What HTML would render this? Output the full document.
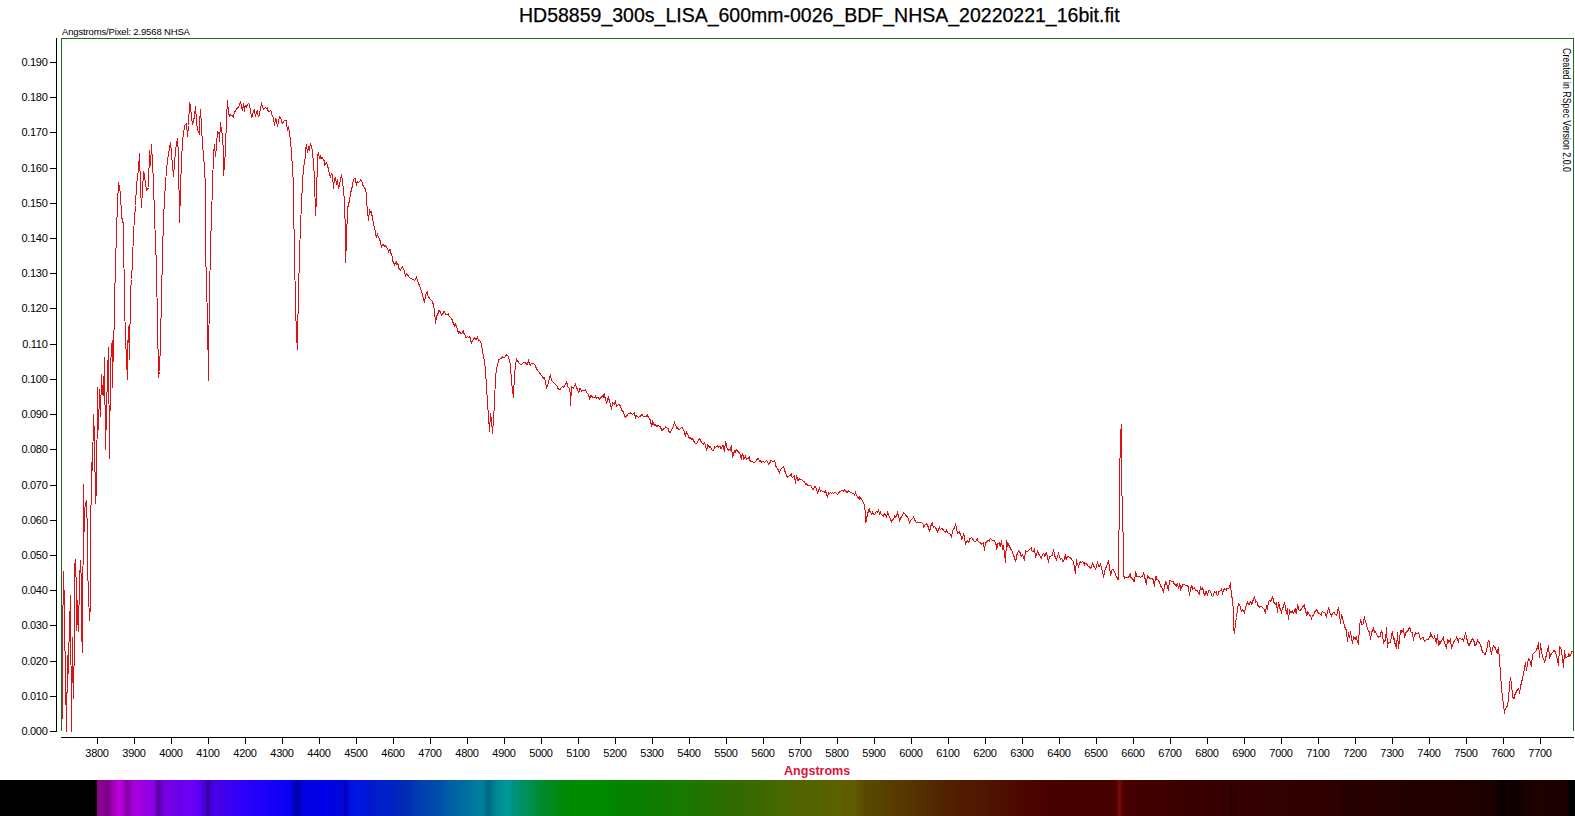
<!DOCTYPE html>
<html><head><meta charset="utf-8"><style>
html,body{margin:0;padding:0;background:#fff;}
body{width:1575px;height:816px;position:relative;overflow:hidden;}
#title{position:absolute;left:-0.7px;top:4px;width:1640px;text-align:center;font-family:"Liberation Sans",Arial,sans-serif;font-size:19.5px;color:#000;white-space:nowrap;-webkit-text-stroke:0.25px #000;}
#app{position:absolute;left:62px;top:26px;font-family:"Liberation Sans",Arial,sans-serif;font-size:9.5px;letter-spacing:-0.15px;color:#000;white-space:nowrap;}
#cb{position:absolute;left:0;top:780px;width:1575px;height:36px;background:linear-gradient(to right, #000000 0.0px, #000000 96.5px, #880088 97.0px, #900090 99.0px, #880090 104.0px, #7a0088 108.0px, #9a00a8 112.0px, #b000c8 116.0px, #c000d8 119.0px, #b000d0 123.0px, #8000a8 127.0px, #9000c0 130.0px, #a800d8 134.0px, #a800e0 138.0px, #9c00e0 142.0px, #9800e4 146.0px, #9000e8 150.0px, #8800e4 154.0px, #5800a0 158.0px, #6600c0 161.0px, #7400e0 164.0px, #7800e8 168.0px, #7400e8 172.0px, #7000ec 176.0px, #6400e8 180.0px, #6a00f0 184.0px, #6c00f8 190.0px, #6400f8 195.0px, #5800f0 200.0px, #4800d8 205.0px, #300098 208.0px, #4000d8 211.0px, #4800e8 215.0px, #4200e8 222.0px, #3c00e8 225.0px, #3a00f0 230.0px, #3000f8 240.0px, #2800f8 250.0px, #2000f8 260.0px, #1800f8 270.0px, #1000f8 280.0px, #0800f0 290.0px, #0000c0 295.0px, #000098 297.5px, #0000d0 300.0px, #0000e8 305.0px, #0000e0 315.0px, #0000e8 325.0px, #0004e0 335.0px, #0008d8 343.0px, #0000b8 345.0px, #0010e0 350.0px, #0018e0 360.0px, #0018d0 370.0px, #0020c8 380.0px, #0020c8 390.0px, #0028b8 400.0px, #0030b0 410.0px, #0040b0 420.0px, #0048b0 430.0px, #0050a8 440.0px, #0060a8 450.0px, #0068a0 460.0px, #00749c 470.0px, #007ea0 480.0px, #007a98 484.0px, #006880 488.0px, #007088 491.0px, #008090 494.0px, #008e98 500.0px, #009898 506.0px, #009890 510.0px, #008c80 513.0px, #009478 516.0px, #009068 520.0px, #009050 530.0px, #008a30 540.0px, #008a20 550.0px, #008810 560.0px, #008a00 570.0px, #008c00 580.0px, #008a00 600.0px, #048200 620.0px, #0a8000 640.0px, #107c00 660.0px, #187a00 680.0px, #207400 700.0px, #2a7000 720.0px, #346a00 740.0px, #3e6800 760.0px, #486800 780.0px, #506400 800.0px, #566200 820.0px, #5e6000 840.0px, #605a00 855.0px, #584800 865.0px, #584400 880.0px, #583800 900.0px, #543000 920.0px, #522400 940.0px, #501c00 960.0px, #501800 980.0px, #4e1000 1000.0px, #4c0800 1020.0px, #4a0200 1040.0px, #480000 1060.0px, #460000 1080.0px, #460000 1100.0px, #480000 1116.0px, #7a0808 1119.0px, #7a0808 1120.0px, #4a0000 1123.0px, #420000 1140.0px, #400000 1160.0px, #3a0000 1180.0px, #380000 1200.0px, #360000 1220.0px, #340000 1229.0px, #2a0000 1232.0px, #340000 1235.0px, #330000 1260.0px, #310000 1280.0px, #300000 1300.0px, #300000 1320.0px, #2e0000 1340.0px, #260000 1345.0px, #280000 1350.0px, #220000 1355.0px, #2a0000 1360.0px, #260000 1380.0px, #240000 1400.0px, #220000 1425.0px, #220000 1450.0px, #200000 1475.0px, #1c0000 1485.0px, #1a0000 1495.0px, #0c0000 1500.0px, #060000 1503.0px, #140000 1508.0px, #0c0000 1512.0px, #100000 1518.0px, #1a0000 1525.0px, #1e0000 1540.0px, #1c0000 1555.0px, #180000 1569.0px, #000000 1569.5px, #000000 1575.0px);}
#created{position:absolute;left:1572.6px;top:47.5px;transform-origin:0 0;transform:rotate(90deg) scaleX(0.843);font-family:"Liberation Sans",Arial,sans-serif;font-size:10.5px;white-space:nowrap;}
#ang{position:absolute;left:784px;top:763px;transform-origin:0 0;transform:scaleX(0.93);font-family:"Liberation Sans",Arial,sans-serif;font-size:13.5px;font-weight:bold;color:#dc143c;white-space:nowrap;}
svg{position:absolute;left:0;top:0;}
</style></head><body>
<div id="title">HD58859_300s_LISA_600mm-0026_BDF_NHSA_20220221_16bit.fit</div>
<div id="app">Angstroms/Pixel: 2.9568 NHSA</div>
<svg width="1575" height="780" viewBox="0 0 1575 780">
<path d="M61.5,731 V38.5 H1573.5 V731" fill="none" stroke="#1a701a" stroke-width="1" shape-rendering="crispEdges"/>
<g stroke="#000" stroke-width="1" shape-rendering="crispEdges">
<line x1="56.5" y1="38" x2="56.5" y2="732"/>
<line x1="61" y1="737.5" x2="1574" y2="737.5"/>
<line x1="50" y1="731.5" x2="56" y2="731.5"/><line x1="50" y1="696.5" x2="56" y2="696.5"/><line x1="50" y1="661.5" x2="56" y2="661.5"/><line x1="50" y1="625.5" x2="56" y2="625.5"/><line x1="50" y1="590.5" x2="56" y2="590.5"/><line x1="50" y1="555.5" x2="56" y2="555.5"/><line x1="50" y1="520.5" x2="56" y2="520.5"/><line x1="50" y1="485.5" x2="56" y2="485.5"/><line x1="50" y1="449.5" x2="56" y2="449.5"/><line x1="50" y1="414.5" x2="56" y2="414.5"/><line x1="50" y1="379.5" x2="56" y2="379.5"/><line x1="50" y1="344.5" x2="56" y2="344.5"/><line x1="50" y1="308.5" x2="56" y2="308.5"/><line x1="50" y1="273.5" x2="56" y2="273.5"/><line x1="50" y1="238.5" x2="56" y2="238.5"/><line x1="50" y1="203.5" x2="56" y2="203.5"/><line x1="50" y1="168.5" x2="56" y2="168.5"/><line x1="50" y1="132.5" x2="56" y2="132.5"/><line x1="50" y1="97.5" x2="56" y2="97.5"/><line x1="50" y1="62.5" x2="56" y2="62.5"/>
<line x1="97.5" y1="737" x2="97.5" y2="744"/><line x1="134.5" y1="737" x2="134.5" y2="744"/><line x1="171.5" y1="737" x2="171.5" y2="744"/><line x1="208.5" y1="737" x2="208.5" y2="744"/><line x1="245.5" y1="737" x2="245.5" y2="744"/><line x1="282.5" y1="737" x2="282.5" y2="744"/><line x1="319.5" y1="737" x2="319.5" y2="744"/><line x1="356.5" y1="737" x2="356.5" y2="744"/><line x1="393.5" y1="737" x2="393.5" y2="744"/><line x1="430.5" y1="737" x2="430.5" y2="744"/><line x1="467.5" y1="737" x2="467.5" y2="744"/><line x1="504.5" y1="737" x2="504.5" y2="744"/><line x1="541.5" y1="737" x2="541.5" y2="744"/><line x1="578.5" y1="737" x2="578.5" y2="744"/><line x1="615.5" y1="737" x2="615.5" y2="744"/><line x1="652.5" y1="737" x2="652.5" y2="744"/><line x1="689.5" y1="737" x2="689.5" y2="744"/><line x1="726.5" y1="737" x2="726.5" y2="744"/><line x1="763.5" y1="737" x2="763.5" y2="744"/><line x1="800.5" y1="737" x2="800.5" y2="744"/><line x1="837.5" y1="737" x2="837.5" y2="744"/><line x1="874.5" y1="737" x2="874.5" y2="744"/><line x1="911.5" y1="737" x2="911.5" y2="744"/><line x1="948.5" y1="737" x2="948.5" y2="744"/><line x1="985.5" y1="737" x2="985.5" y2="744"/><line x1="1022.5" y1="737" x2="1022.5" y2="744"/><line x1="1059.5" y1="737" x2="1059.5" y2="744"/><line x1="1096.5" y1="737" x2="1096.5" y2="744"/><line x1="1133.5" y1="737" x2="1133.5" y2="744"/><line x1="1170.5" y1="737" x2="1170.5" y2="744"/><line x1="1207.5" y1="737" x2="1207.5" y2="744"/><line x1="1244.5" y1="737" x2="1244.5" y2="744"/><line x1="1281.5" y1="737" x2="1281.5" y2="744"/><line x1="1318.5" y1="737" x2="1318.5" y2="744"/><line x1="1355.5" y1="737" x2="1355.5" y2="744"/><line x1="1392.5" y1="737" x2="1392.5" y2="744"/><line x1="1429.5" y1="737" x2="1429.5" y2="744"/><line x1="1466.5" y1="737" x2="1466.5" y2="744"/><line x1="1503.5" y1="737" x2="1503.5" y2="744"/><line x1="1540.5" y1="737" x2="1540.5" y2="744"/>
</g>
<g font-family="Liberation Sans, Arial, sans-serif" font-size="11" fill="#000" text-anchor="end" letter-spacing="-0.3"><text x="47.5" y="735">0.000</text><text x="47.5" y="700">0.010</text><text x="47.5" y="665">0.020</text><text x="47.5" y="629">0.030</text><text x="47.5" y="594">0.040</text><text x="47.5" y="559">0.050</text><text x="47.5" y="524">0.060</text><text x="47.5" y="489">0.070</text><text x="47.5" y="453">0.080</text><text x="47.5" y="418">0.090</text><text x="47.5" y="383">0.100</text><text x="47.5" y="348">0.110</text><text x="47.5" y="312">0.120</text><text x="47.5" y="277">0.130</text><text x="47.5" y="242">0.140</text><text x="47.5" y="207">0.150</text><text x="47.5" y="172">0.160</text><text x="47.5" y="136">0.170</text><text x="47.5" y="101">0.180</text><text x="47.5" y="66">0.190</text></g>
<g font-family="Liberation Sans, Arial, sans-serif" font-size="11" fill="#000" text-anchor="middle" letter-spacing="-0.3"><text x="97" y="757">3800</text><text x="134" y="757">3900</text><text x="171" y="757">4000</text><text x="208" y="757">4100</text><text x="245" y="757">4200</text><text x="282" y="757">4300</text><text x="319" y="757">4400</text><text x="356" y="757">4500</text><text x="393" y="757">4600</text><text x="430" y="757">4700</text><text x="467" y="757">4800</text><text x="504" y="757">4900</text><text x="541" y="757">5000</text><text x="578" y="757">5100</text><text x="615" y="757">5200</text><text x="652" y="757">5300</text><text x="689" y="757">5400</text><text x="726" y="757">5500</text><text x="763" y="757">5600</text><text x="800" y="757">5700</text><text x="837" y="757">5800</text><text x="874" y="757">5900</text><text x="911" y="757">6000</text><text x="948" y="757">6100</text><text x="985" y="757">6200</text><text x="1022" y="757">6300</text><text x="1059" y="757">6400</text><text x="1096" y="757">6500</text><text x="1133" y="757">6600</text><text x="1170" y="757">6700</text><text x="1207" y="757">6800</text><text x="1244" y="757">6900</text><text x="1281" y="757">7000</text><text x="1318" y="757">7100</text><text x="1355" y="757">7200</text><text x="1392" y="757">7300</text><text x="1429" y="757">7400</text><text x="1466" y="757">7500</text><text x="1503" y="757">7600</text><text x="1540" y="757">7700</text></g>
<polyline fill="none" stroke="#e01010" stroke-width="1" stroke-linejoin="miter" shape-rendering="crispEdges" points="62.5,718.5 62.5,640.5 63.5,571.5 64.5,607.5 64.5,623.5 65.5,677.5 66.5,731.5 67.5,655.5 67.5,692.5 68.5,657.5 69.5,627.5 70.5,595.5 71.5,731.5 72.5,637.5 73.5,698.5 74.5,634.5 74.5,567.5 75.5,559.5 76.5,594.5 76.5,630.5 77.5,600.5 77.5,617.5 78.5,631.5 79.5,580.5 80.5,560.5 81.5,584.5 81.5,630.5 82.5,652.5 83.5,484.5 84.5,531.5 84.5,509.5 85.5,504.5 86.5,500.5 87.5,533.5 87.5,567.5 89.5,620.5 90.5,604.5 90.5,550.5 91.5,462.5 92.5,470.5 93.5,414.5 94.5,437.5 95.5,503.5 95.5,480.5 96.5,495.5 97.5,387.5 98.5,429.5 99.5,389.5 100.5,416.5 101.5,374.5 102.5,394.5 103.5,395.5 104.5,357.5 105.5,449.5 107.5,373.5 108.5,347.5 109.5,458.5 110.5,367.5 111.5,346.5 112.5,340.5 112.5,387.5 113.5,338.5 114.5,322.5 114.5,300.5 115.5,267.5 116.5,230.5 117.5,204.5 118.5,182.5 120.5,193.5 121.5,216.5 123.5,224.5 123.5,230.5 124.5,304.5 125.5,337.5 126.5,359.5 127.5,379.5 127.5,353.5 128.5,326.5 129.5,359.5 130.5,290.5 131.5,279.5 132.5,261.5 133.5,232.5 135.5,205.5 136.5,185.5 138.5,169.5 139.5,153.5 140.5,187.5 141.5,207.5 143.5,172.5 144.5,174.5 144.5,176.5 146.5,190.5 147.5,189.5 148.5,187.5 149.5,150.5 150.5,165.5 151.5,144.5 153.5,182.5 154.5,216.5 156.5,267.5 157.5,326.5 158.5,371.5 158.5,377.5 159.5,371.5 160.5,341.5 161.5,296.5 162.5,255.5 163.5,218.5 165.5,182.5 167.5,159.5 170.5,142.5 173.5,176.5 175.5,150.5 177.5,138.5 178.5,154.5 179.5,222.5 181.5,158.5 182.5,143.5 183.5,131.5 184.5,128.5 184.5,125.5 185.5,124.5 186.5,123.5 187.5,136.5 188.5,125.5 189.5,102.5 190.5,105.5 191.5,117.5 192.5,124.5 194.5,116.5 195.5,106.5 196.5,121.5 197.5,130.5 198.5,131.5 199.5,134.5 199.5,123.5 200.5,109.5 201.5,126.5 202.5,145.5 203.5,153.5 204.5,170.5 205.5,185.5 205.5,248.5 207.5,319.5 208.5,380.5 208.5,355.5 209.5,295.5 210.5,246.5 211.5,216.5 212.5,185.5 213.5,154.5 214.5,144.5 215.5,156.5 216.5,145.5 217.5,131.5 218.5,132.5 219.5,134.5 219.5,141.5 220.5,122.5 221.5,131.5 222.5,134.5 223.5,154.5 223.5,175.5 224.5,165.5 225.5,148.5 226.5,118.5 227.5,100.5 228.5,113.5 229.5,115.5 229.5,116.5 230.5,115.5 230.5,114.5 231.5,115.5 232.5,115.5 232.5,116.5 233.5,117.5 234.5,111.5 235.5,111.5 235.5,110.5 236.5,109.5 237.5,107.5 238.5,106.5 238.5,107.5 239.5,104.5 240.5,101.5 240.5,103.5 241.5,104.5 241.5,107.5 242.5,110.5 243.5,103.5 244.5,111.5 244.5,107.5 245.5,105.5 246.5,105.5 246.5,107.5 247.5,104.5 248.5,103.5 248.5,103.5 249.5,104.5 251.5,117.5 252.5,116.5 252.5,114.5 253.5,111.5 254.5,109.5 254.5,112.5 255.5,115.5 256.5,112.5 257.5,110.5 257.5,113.5 258.5,116.5 259.5,115.5 259.5,113.5 261.5,103.5 263.5,109.5 264.5,108.5 265.5,107.5 266.5,108.5 267.5,107.5 267.5,109.5 268.5,111.5 269.5,111.5 270.5,110.5 271.5,111.5 271.5,114.5 272.5,115.5 273.5,118.5 274.5,125.5 275.5,118.5 276.5,119.5 276.5,121.5 277.5,126.5 279.5,116.5 279.5,116.5 280.5,117.5 281.5,120.5 281.5,121.5 282.5,123.5 283.5,122.5 283.5,121.5 284.5,120.5 285.5,120.5 286.5,120.5 286.5,123.5 287.5,130.5 288.5,126.5 289.5,133.5 290.5,140.5 291.5,153.5 292.5,168.5 293.5,185.5 293.5,204.5 294.5,252.5 295.5,306.5 296.5,335.5 297.5,349.5 297.5,335.5 298.5,294.5 299.5,252.5 300.5,227.5 301.5,202.5 302.5,183.5 303.5,167.5 305.5,156.5 305.5,150.5 306.5,144.5 307.5,152.5 308.5,147.5 309.5,149.5 310.5,143.5 311.5,146.5 312.5,151.5 313.5,163.5 314.5,178.5 315.5,215.5 316.5,198.5 317.5,157.5 317.5,155.5 318.5,153.5 319.5,158.5 320.5,158.5 320.5,155.5 321.5,158.5 322.5,157.5 322.5,158.5 323.5,159.5 324.5,161.5 324.5,165.5 325.5,164.5 325.5,163.5 326.5,162.5 327.5,165.5 327.5,166.5 328.5,168.5 329.5,174.5 330.5,176.5 330.5,176.5 331.5,173.5 332.5,174.5 333.5,188.5 334.5,178.5 335.5,177.5 336.5,184.5 336.5,182.5 337.5,180.5 338.5,188.5 339.5,185.5 340.5,178.5 341.5,175.5 342.5,180.5 343.5,190.5 344.5,200.5 345.5,237.5 345.5,262.5 346.5,240.5 347.5,208.5 349.5,200.5 350.5,193.5 352.5,185.5 353.5,179.5 354.5,178.5 354.5,178.5 355.5,178.5 355.5,180.5 356.5,184.5 357.5,181.5 358.5,182.5 358.5,182.5 359.5,181.5 360.5,180.5 360.5,179.5 361.5,180.5 362.5,183.5 362.5,184.5 363.5,186.5 364.5,187.5 365.5,189.5 365.5,189.5 366.5,194.5 366.5,200.5 368.5,220.5 369.5,210.5 370.5,212.5 371.5,211.5 371.5,214.5 372.5,216.5 373.5,224.5 375.5,231.5 375.5,234.5 376.5,236.5 377.5,234.5 377.5,234.5 378.5,237.5 379.5,238.5 379.5,239.5 380.5,241.5 380.5,243.5 381.5,246.5 382.5,244.5 383.5,244.5 383.5,244.5 384.5,246.5 385.5,245.5 385.5,245.5 386.5,247.5 387.5,248.5 387.5,248.5 388.5,251.5 389.5,249.5 390.5,249.5 390.5,252.5 391.5,254.5 392.5,257.5 392.5,260.5 393.5,262.5 394.5,264.5 394.5,265.5 395.5,262.5 396.5,261.5 396.5,264.5 397.5,263.5 398.5,265.5 398.5,267.5 399.5,269.5 399.5,269.5 400.5,270.5 401.5,267.5 402.5,266.5 403.5,269.5 404.5,270.5 405.5,276.5 405.5,275.5 406.5,273.5 407.5,274.5 408.5,276.5 409.5,277.5 409.5,277.5 410.5,278.5 411.5,278.5 412.5,279.5 413.5,279.5 414.5,280.5 414.5,280.5 415.5,279.5 416.5,277.5 418.5,283.5 419.5,285.5 419.5,285.5 421.5,291.5 423.5,298.5 424.5,302.5 425.5,295.5 426.5,292.5 427.5,291.5 427.5,295.5 428.5,296.5 429.5,298.5 430.5,299.5 431.5,300.5 432.5,301.5 432.5,301.5 433.5,305.5 433.5,306.5 434.5,309.5 435.5,323.5 436.5,316.5 437.5,314.5 438.5,312.5 438.5,310.5 439.5,310.5 440.5,312.5 441.5,315.5 442.5,314.5 443.5,312.5 443.5,311.5 444.5,311.5 445.5,314.5 446.5,314.5 447.5,314.5 448.5,313.5 448.5,315.5 449.5,316.5 450.5,317.5 451.5,318.5 452.5,320.5 452.5,321.5 453.5,323.5 454.5,325.5 454.5,325.5 455.5,323.5 455.5,324.5 456.5,326.5 458.5,333.5 458.5,331.5 459.5,331.5 460.5,333.5 461.5,333.5 462.5,332.5 462.5,331.5 463.5,330.5 463.5,332.5 464.5,334.5 465.5,335.5 465.5,337.5 466.5,337.5 467.5,336.5 468.5,337.5 469.5,336.5 470.5,338.5 470.5,340.5 471.5,342.5 472.5,340.5 473.5,339.5 473.5,338.5 474.5,337.5 475.5,339.5 476.5,339.5 477.5,337.5 477.5,337.5 478.5,340.5 479.5,340.5 480.5,341.5 481.5,344.5 482.5,350.5 483.5,356.5 484.5,360.5 485.5,370.5 486.5,386.5 487.5,402.5 488.5,416.5 489.5,431.5 490.5,413.5 491.5,419.5 492.5,433.5 493.5,419.5 494.5,403.5 495.5,376.5 497.5,364.5 498.5,361.5 498.5,359.5 499.5,359.5 500.5,358.5 501.5,358.5 502.5,356.5 503.5,357.5 504.5,357.5 505.5,356.5 506.5,354.5 507.5,355.5 508.5,356.5 508.5,358.5 509.5,359.5 510.5,365.5 511.5,382.5 513.5,397.5 514.5,373.5 516.5,358.5 516.5,360.5 517.5,360.5 518.5,362.5 519.5,363.5 520.5,364.5 521.5,364.5 522.5,363.5 523.5,362.5 524.5,362.5 525.5,362.5 526.5,364.5 527.5,364.5 527.5,363.5 528.5,360.5 529.5,364.5 530.5,365.5 530.5,364.5 531.5,363.5 532.5,363.5 533.5,363.5 534.5,364.5 535.5,365.5 535.5,366.5 536.5,368.5 537.5,370.5 538.5,371.5 539.5,372.5 540.5,374.5 541.5,375.5 542.5,376.5 543.5,378.5 544.5,378.5 544.5,377.5 545.5,381.5 546.5,388.5 547.5,385.5 547.5,385.5 550.5,374.5 551.5,380.5 552.5,381.5 553.5,382.5 554.5,383.5 555.5,384.5 556.5,385.5 557.5,386.5 557.5,387.5 558.5,389.5 559.5,389.5 560.5,389.5 560.5,388.5 561.5,387.5 562.5,386.5 563.5,387.5 564.5,385.5 565.5,384.5 566.5,382.5 567.5,384.5 567.5,386.5 568.5,387.5 569.5,388.5 570.5,395.5 570.5,405.5 571.5,386.5 572.5,387.5 573.5,388.5 573.5,387.5 574.5,386.5 575.5,384.5 576.5,387.5 577.5,389.5 578.5,392.5 579.5,391.5 579.5,388.5 580.5,388.5 581.5,391.5 582.5,390.5 583.5,390.5 584.5,390.5 585.5,390.5 585.5,389.5 586.5,392.5 587.5,393.5 588.5,394.5 589.5,398.5 590.5,396.5 590.5,395.5 591.5,395.5 592.5,397.5 593.5,397.5 594.5,397.5 595.5,397.5 595.5,395.5 596.5,398.5 597.5,397.5 598.5,397.5 599.5,399.5 600.5,398.5 601.5,396.5 602.5,395.5 603.5,397.5 603.5,395.5 604.5,393.5 604.5,396.5 605.5,398.5 606.5,403.5 608.5,396.5 608.5,398.5 609.5,400.5 611.5,409.5 612.5,402.5 613.5,403.5 614.5,404.5 614.5,403.5 615.5,400.5 616.5,406.5 617.5,405.5 618.5,404.5 619.5,404.5 620.5,406.5 620.5,406.5 621.5,409.5 622.5,411.5 623.5,411.5 623.5,411.5 624.5,416.5 625.5,417.5 626.5,415.5 626.5,416.5 627.5,414.5 628.5,413.5 629.5,413.5 630.5,412.5 630.5,413.5 631.5,413.5 632.5,414.5 633.5,413.5 634.5,412.5 634.5,413.5 635.5,417.5 636.5,415.5 637.5,416.5 638.5,417.5 638.5,417.5 639.5,416.5 640.5,416.5 641.5,414.5 642.5,414.5 642.5,415.5 643.5,416.5 644.5,416.5 645.5,416.5 646.5,416.5 647.5,414.5 647.5,415.5 648.5,417.5 649.5,418.5 650.5,420.5 650.5,421.5 651.5,425.5 652.5,423.5 652.5,420.5 653.5,423.5 654.5,425.5 655.5,424.5 656.5,426.5 657.5,425.5 657.5,426.5 658.5,425.5 659.5,426.5 660.5,426.5 661.5,430.5 662.5,430.5 663.5,428.5 664.5,428.5 665.5,427.5 665.5,426.5 666.5,427.5 667.5,428.5 668.5,428.5 668.5,430.5 669.5,432.5 670.5,432.5 671.5,429.5 672.5,428.5 672.5,428.5 674.5,422.5 675.5,425.5 676.5,426.5 676.5,428.5 677.5,427.5 678.5,429.5 679.5,429.5 680.5,428.5 681.5,427.5 682.5,427.5 683.5,430.5 684.5,431.5 684.5,433.5 685.5,436.5 685.5,434.5 686.5,432.5 687.5,434.5 688.5,435.5 688.5,436.5 689.5,438.5 690.5,437.5 691.5,439.5 692.5,439.5 692.5,438.5 693.5,440.5 694.5,442.5 695.5,443.5 696.5,443.5 697.5,442.5 698.5,439.5 699.5,438.5 700.5,440.5 701.5,442.5 702.5,443.5 703.5,444.5 703.5,443.5 704.5,442.5 706.5,449.5 707.5,447.5 707.5,444.5 708.5,445.5 709.5,447.5 710.5,447.5 710.5,446.5 711.5,449.5 712.5,450.5 713.5,450.5 714.5,447.5 714.5,446.5 715.5,447.5 716.5,446.5 717.5,445.5 718.5,447.5 719.5,446.5 720.5,446.5 720.5,448.5 721.5,448.5 722.5,445.5 723.5,445.5 723.5,448.5 724.5,451.5 725.5,441.5 726.5,444.5 726.5,447.5 727.5,448.5 728.5,450.5 729.5,449.5 730.5,450.5 730.5,448.5 731.5,445.5 732.5,457.5 734.5,450.5 734.5,452.5 735.5,452.5 735.5,450.5 736.5,449.5 737.5,451.5 738.5,451.5 739.5,453.5 740.5,454.5 740.5,456.5 741.5,459.5 741.5,456.5 742.5,454.5 743.5,456.5 743.5,459.5 744.5,458.5 745.5,455.5 745.5,456.5 746.5,459.5 747.5,458.5 748.5,458.5 748.5,458.5 749.5,456.5 749.5,459.5 750.5,461.5 751.5,461.5 752.5,461.5 753.5,462.5 754.5,462.5 755.5,461.5 756.5,460.5 757.5,458.5 757.5,458.5 758.5,458.5 759.5,461.5 760.5,460.5 761.5,462.5 762.5,461.5 763.5,461.5 763.5,461.5 764.5,462.5 765.5,461.5 766.5,460.5 767.5,461.5 768.5,464.5 769.5,463.5 770.5,461.5 770.5,460.5 771.5,460.5 772.5,461.5 773.5,461.5 774.5,460.5 775.5,463.5 775.5,465.5 776.5,467.5 777.5,468.5 778.5,470.5 778.5,470.5 779.5,473.5 779.5,472.5 780.5,469.5 781.5,468.5 782.5,467.5 783.5,466.5 784.5,469.5 784.5,470.5 785.5,472.5 786.5,475.5 787.5,477.5 788.5,476.5 789.5,475.5 790.5,475.5 791.5,473.5 791.5,476.5 792.5,477.5 793.5,476.5 794.5,475.5 795.5,483.5 796.5,475.5 797.5,478.5 797.5,480.5 798.5,480.5 799.5,478.5 800.5,479.5 801.5,479.5 802.5,480.5 803.5,481.5 804.5,481.5 805.5,484.5 805.5,484.5 806.5,483.5 807.5,485.5 808.5,485.5 809.5,485.5 810.5,485.5 810.5,485.5 811.5,486.5 812.5,489.5 813.5,489.5 814.5,486.5 815.5,486.5 817.5,492.5 818.5,490.5 819.5,488.5 820.5,491.5 821.5,490.5 821.5,490.5 822.5,491.5 823.5,491.5 824.5,492.5 825.5,490.5 825.5,491.5 826.5,493.5 827.5,497.5 828.5,492.5 829.5,493.5 830.5,492.5 831.5,493.5 832.5,492.5 832.5,492.5 833.5,493.5 834.5,492.5 835.5,492.5 836.5,493.5 837.5,494.5 838.5,493.5 839.5,491.5 840.5,491.5 841.5,490.5 842.5,490.5 843.5,491.5 844.5,489.5 844.5,489.5 845.5,490.5 846.5,492.5 847.5,492.5 848.5,490.5 849.5,491.5 850.5,492.5 851.5,492.5 852.5,493.5 853.5,493.5 854.5,494.5 854.5,495.5 855.5,492.5 856.5,495.5 857.5,496.5 858.5,498.5 859.5,499.5 859.5,496.5 860.5,497.5 861.5,499.5 862.5,500.5 863.5,503.5 864.5,504.5 865.5,515.5 865.5,522.5 866.5,521.5 866.5,518.5 868.5,510.5 868.5,510.5 869.5,508.5 869.5,510.5 870.5,512.5 871.5,513.5 871.5,514.5 872.5,512.5 873.5,514.5 874.5,514.5 875.5,513.5 875.5,512.5 876.5,511.5 877.5,512.5 878.5,510.5 879.5,513.5 880.5,511.5 880.5,513.5 881.5,514.5 882.5,515.5 883.5,516.5 883.5,515.5 884.5,513.5 885.5,514.5 886.5,516.5 887.5,513.5 887.5,511.5 888.5,515.5 889.5,516.5 890.5,519.5 891.5,521.5 892.5,519.5 893.5,519.5 894.5,516.5 894.5,515.5 895.5,517.5 896.5,516.5 896.5,515.5 897.5,512.5 898.5,516.5 898.5,516.5 899.5,519.5 899.5,521.5 900.5,518.5 901.5,516.5 901.5,516.5 902.5,515.5 903.5,512.5 904.5,513.5 905.5,514.5 906.5,516.5 906.5,516.5 907.5,516.5 908.5,519.5 909.5,522.5 910.5,520.5 911.5,519.5 912.5,518.5 913.5,517.5 913.5,516.5 914.5,519.5 915.5,521.5 916.5,522.5 916.5,522.5 917.5,522.5 918.5,522.5 919.5,522.5 920.5,522.5 921.5,522.5 921.5,522.5 922.5,523.5 923.5,524.5 923.5,527.5 924.5,525.5 925.5,524.5 925.5,524.5 926.5,523.5 927.5,525.5 928.5,527.5 928.5,528.5 929.5,530.5 930.5,528.5 930.5,526.5 931.5,524.5 932.5,522.5 932.5,524.5 933.5,527.5 934.5,526.5 935.5,527.5 936.5,529.5 937.5,531.5 938.5,529.5 939.5,526.5 939.5,528.5 940.5,529.5 941.5,528.5 942.5,528.5 943.5,530.5 944.5,531.5 945.5,531.5 945.5,532.5 946.5,530.5 947.5,532.5 948.5,533.5 949.5,533.5 950.5,534.5 951.5,537.5 952.5,530.5 953.5,529.5 954.5,527.5 955.5,524.5 956.5,527.5 957.5,533.5 958.5,532.5 959.5,532.5 959.5,531.5 960.5,535.5 961.5,536.5 961.5,539.5 962.5,538.5 963.5,534.5 964.5,536.5 964.5,538.5 965.5,543.5 966.5,541.5 967.5,540.5 967.5,540.5 968.5,542.5 969.5,541.5 969.5,538.5 970.5,538.5 971.5,537.5 972.5,538.5 973.5,540.5 974.5,541.5 975.5,541.5 976.5,540.5 977.5,538.5 977.5,540.5 978.5,541.5 979.5,542.5 980.5,542.5 981.5,544.5 982.5,543.5 983.5,543.5 983.5,542.5 984.5,550.5 985.5,542.5 986.5,542.5 987.5,540.5 988.5,540.5 989.5,541.5 989.5,539.5 990.5,538.5 991.5,539.5 992.5,540.5 993.5,540.5 994.5,540.5 995.5,543.5 996.5,545.5 996.5,549.5 997.5,546.5 997.5,543.5 998.5,543.5 999.5,542.5 999.5,544.5 1000.5,546.5 1000.5,545.5 1001.5,540.5 1002.5,548.5 1003.5,546.5 1004.5,553.5 1005.5,562.5 1006.5,540.5 1007.5,544.5 1007.5,546.5 1008.5,544.5 1009.5,546.5 1010.5,548.5 1011.5,550.5 1012.5,551.5 1013.5,556.5 1014.5,556.5 1014.5,558.5 1015.5,560.5 1016.5,558.5 1016.5,555.5 1017.5,553.5 1018.5,550.5 1019.5,551.5 1020.5,553.5 1020.5,554.5 1021.5,556.5 1022.5,555.5 1022.5,554.5 1023.5,557.5 1024.5,559.5 1025.5,550.5 1026.5,551.5 1027.5,551.5 1028.5,550.5 1029.5,549.5 1030.5,548.5 1031.5,547.5 1031.5,550.5 1032.5,551.5 1033.5,551.5 1034.5,549.5 1035.5,556.5 1036.5,554.5 1037.5,551.5 1038.5,553.5 1039.5,555.5 1040.5,556.5 1040.5,557.5 1041.5,558.5 1042.5,554.5 1043.5,553.5 1044.5,554.5 1044.5,556.5 1045.5,554.5 1046.5,552.5 1046.5,553.5 1047.5,556.5 1047.5,558.5 1048.5,561.5 1049.5,556.5 1050.5,556.5 1051.5,555.5 1052.5,555.5 1052.5,553.5 1053.5,550.5 1054.5,553.5 1054.5,555.5 1055.5,557.5 1056.5,559.5 1058.5,553.5 1059.5,556.5 1060.5,559.5 1061.5,558.5 1062.5,559.5 1062.5,561.5 1063.5,561.5 1065.5,554.5 1065.5,557.5 1066.5,559.5 1066.5,558.5 1067.5,556.5 1068.5,556.5 1069.5,557.5 1070.5,558.5 1070.5,557.5 1071.5,559.5 1072.5,560.5 1073.5,561.5 1074.5,567.5 1075.5,573.5 1076.5,559.5 1076.5,562.5 1077.5,563.5 1077.5,563.5 1078.5,566.5 1079.5,563.5 1080.5,561.5 1081.5,562.5 1082.5,561.5 1083.5,562.5 1084.5,565.5 1084.5,562.5 1085.5,563.5 1086.5,563.5 1087.5,565.5 1088.5,566.5 1089.5,566.5 1089.5,567.5 1090.5,568.5 1091.5,566.5 1092.5,563.5 1093.5,565.5 1094.5,567.5 1095.5,568.5 1095.5,569.5 1097.5,562.5 1098.5,565.5 1098.5,566.5 1099.5,566.5 1100.5,564.5 1100.5,564.5 1101.5,567.5 1101.5,568.5 1102.5,571.5 1103.5,576.5 1104.5,573.5 1104.5,571.5 1105.5,568.5 1106.5,566.5 1108.5,560.5 1109.5,566.5 1110.5,575.5 1111.5,572.5 1111.5,570.5 1112.5,569.5 1113.5,569.5 1114.5,572.5 1115.5,573.5 1115.5,574.5 1116.5,577.5 1117.5,577.5 1117.5,579.5 1118.5,579.5 1119.5,483.5 1120.5,434.5 1121.5,424.5 1121.5,469.5 1122.5,520.5 1123.5,542.5 1123.5,574.5 1124.5,578.5 1125.5,577.5 1126.5,577.5 1127.5,577.5 1128.5,577.5 1129.5,575.5 1130.5,573.5 1130.5,576.5 1131.5,578.5 1132.5,578.5 1133.5,580.5 1133.5,581.5 1134.5,581.5 1135.5,572.5 1136.5,574.5 1136.5,576.5 1137.5,576.5 1138.5,576.5 1139.5,576.5 1140.5,577.5 1141.5,576.5 1142.5,576.5 1143.5,573.5 1144.5,575.5 1144.5,576.5 1145.5,580.5 1145.5,581.5 1146.5,583.5 1147.5,575.5 1148.5,576.5 1149.5,578.5 1149.5,578.5 1150.5,578.5 1151.5,578.5 1152.5,578.5 1153.5,580.5 1154.5,586.5 1155.5,576.5 1156.5,576.5 1156.5,579.5 1157.5,579.5 1158.5,580.5 1159.5,582.5 1160.5,585.5 1161.5,587.5 1162.5,588.5 1163.5,592.5 1164.5,585.5 1165.5,583.5 1165.5,581.5 1166.5,583.5 1167.5,586.5 1167.5,587.5 1168.5,589.5 1169.5,580.5 1170.5,580.5 1171.5,581.5 1172.5,581.5 1173.5,581.5 1173.5,583.5 1174.5,583.5 1175.5,585.5 1176.5,586.5 1176.5,584.5 1177.5,583.5 1178.5,588.5 1179.5,584.5 1180.5,586.5 1180.5,590.5 1181.5,587.5 1182.5,585.5 1182.5,584.5 1183.5,584.5 1184.5,584.5 1185.5,585.5 1186.5,585.5 1187.5,585.5 1188.5,587.5 1189.5,595.5 1190.5,588.5 1191.5,586.5 1191.5,585.5 1192.5,587.5 1192.5,589.5 1193.5,588.5 1194.5,587.5 1195.5,590.5 1196.5,590.5 1196.5,590.5 1197.5,590.5 1198.5,593.5 1199.5,594.5 1200.5,586.5 1201.5,589.5 1202.5,588.5 1202.5,587.5 1204.5,595.5 1205.5,594.5 1205.5,591.5 1206.5,591.5 1207.5,595.5 1208.5,590.5 1209.5,590.5 1210.5,591.5 1210.5,592.5 1211.5,593.5 1211.5,595.5 1212.5,596.5 1213.5,595.5 1214.5,591.5 1215.5,592.5 1216.5,591.5 1216.5,594.5 1217.5,595.5 1218.5,594.5 1218.5,591.5 1219.5,591.5 1220.5,590.5 1221.5,589.5 1221.5,588.5 1222.5,593.5 1223.5,590.5 1224.5,588.5 1225.5,589.5 1226.5,590.5 1226.5,588.5 1227.5,588.5 1228.5,588.5 1229.5,587.5 1230.5,582.5 1231.5,596.5 1232.5,598.5 1233.5,612.5 1233.5,628.5 1234.5,633.5 1235.5,623.5 1236.5,617.5 1237.5,609.5 1238.5,603.5 1239.5,604.5 1240.5,607.5 1240.5,609.5 1241.5,610.5 1241.5,611.5 1242.5,609.5 1243.5,610.5 1244.5,613.5 1245.5,607.5 1246.5,604.5 1247.5,602.5 1248.5,604.5 1249.5,604.5 1249.5,603.5 1250.5,601.5 1251.5,602.5 1251.5,604.5 1252.5,603.5 1252.5,601.5 1253.5,599.5 1254.5,597.5 1255.5,600.5 1255.5,602.5 1256.5,601.5 1257.5,602.5 1257.5,605.5 1258.5,605.5 1259.5,607.5 1260.5,606.5 1261.5,606.5 1262.5,607.5 1263.5,608.5 1264.5,609.5 1264.5,610.5 1265.5,612.5 1266.5,606.5 1267.5,608.5 1267.5,609.5 1268.5,601.5 1269.5,600.5 1270.5,601.5 1271.5,599.5 1272.5,597.5 1273.5,599.5 1273.5,602.5 1274.5,602.5 1275.5,604.5 1275.5,603.5 1276.5,602.5 1277.5,612.5 1278.5,602.5 1279.5,606.5 1279.5,607.5 1280.5,609.5 1281.5,612.5 1282.5,608.5 1283.5,606.5 1283.5,605.5 1284.5,602.5 1286.5,613.5 1286.5,611.5 1287.5,609.5 1288.5,619.5 1289.5,610.5 1290.5,612.5 1290.5,612.5 1291.5,612.5 1292.5,610.5 1292.5,612.5 1293.5,613.5 1294.5,610.5 1295.5,608.5 1295.5,612.5 1296.5,613.5 1297.5,605.5 1298.5,607.5 1298.5,609.5 1299.5,610.5 1300.5,610.5 1301.5,608.5 1302.5,607.5 1303.5,605.5 1304.5,604.5 1304.5,606.5 1305.5,610.5 1306.5,614.5 1306.5,615.5 1307.5,614.5 1307.5,611.5 1308.5,612.5 1309.5,615.5 1310.5,615.5 1311.5,618.5 1312.5,615.5 1312.5,615.5 1313.5,615.5 1314.5,612.5 1315.5,610.5 1316.5,609.5 1317.5,611.5 1318.5,613.5 1319.5,613.5 1320.5,614.5 1320.5,614.5 1321.5,615.5 1321.5,612.5 1322.5,611.5 1323.5,612.5 1324.5,612.5 1325.5,613.5 1326.5,617.5 1327.5,610.5 1328.5,609.5 1328.5,607.5 1329.5,610.5 1329.5,612.5 1330.5,613.5 1331.5,615.5 1332.5,613.5 1333.5,612.5 1334.5,612.5 1334.5,613.5 1335.5,614.5 1336.5,615.5 1337.5,612.5 1337.5,610.5 1338.5,607.5 1339.5,613.5 1340.5,623.5 1341.5,614.5 1342.5,617.5 1342.5,618.5 1344.5,625.5 1344.5,627.5 1345.5,627.5 1346.5,631.5 1347.5,641.5 1348.5,632.5 1348.5,634.5 1349.5,636.5 1350.5,633.5 1350.5,631.5 1351.5,637.5 1352.5,643.5 1353.5,636.5 1354.5,637.5 1355.5,639.5 1355.5,637.5 1356.5,636.5 1356.5,638.5 1357.5,641.5 1358.5,643.5 1359.5,626.5 1360.5,620.5 1361.5,622.5 1361.5,624.5 1362.5,624.5 1363.5,623.5 1363.5,620.5 1364.5,617.5 1365.5,622.5 1366.5,623.5 1367.5,629.5 1368.5,630.5 1369.5,632.5 1370.5,639.5 1371.5,632.5 1372.5,630.5 1373.5,628.5 1374.5,632.5 1375.5,631.5 1375.5,631.5 1376.5,634.5 1377.5,635.5 1378.5,637.5 1379.5,636.5 1380.5,636.5 1380.5,633.5 1381.5,631.5 1382.5,633.5 1382.5,635.5 1383.5,642.5 1384.5,640.5 1385.5,640.5 1386.5,627.5 1387.5,647.5 1387.5,645.5 1388.5,642.5 1389.5,642.5 1390.5,642.5 1391.5,635.5 1391.5,634.5 1392.5,632.5 1393.5,639.5 1394.5,638.5 1394.5,641.5 1395.5,645.5 1396.5,648.5 1397.5,632.5 1398.5,648.5 1399.5,639.5 1400.5,630.5 1401.5,630.5 1401.5,632.5 1402.5,631.5 1403.5,629.5 1404.5,636.5 1405.5,634.5 1405.5,633.5 1406.5,631.5 1407.5,631.5 1408.5,629.5 1409.5,627.5 1410.5,628.5 1410.5,631.5 1411.5,632.5 1412.5,632.5 1413.5,640.5 1414.5,634.5 1415.5,634.5 1415.5,632.5 1416.5,633.5 1417.5,633.5 1418.5,632.5 1420.5,639.5 1420.5,639.5 1421.5,638.5 1422.5,637.5 1423.5,637.5 1423.5,638.5 1424.5,641.5 1425.5,640.5 1426.5,639.5 1427.5,639.5 1428.5,639.5 1428.5,638.5 1429.5,637.5 1430.5,635.5 1430.5,632.5 1431.5,635.5 1432.5,637.5 1432.5,637.5 1433.5,638.5 1434.5,637.5 1434.5,635.5 1435.5,640.5 1436.5,642.5 1437.5,634.5 1438.5,645.5 1439.5,644.5 1439.5,641.5 1440.5,641.5 1440.5,643.5 1443.5,636.5 1443.5,639.5 1444.5,642.5 1446.5,648.5 1447.5,639.5 1448.5,640.5 1448.5,642.5 1449.5,641.5 1450.5,638.5 1451.5,648.5 1453.5,642.5 1454.5,640.5 1455.5,639.5 1456.5,638.5 1456.5,636.5 1458.5,642.5 1458.5,639.5 1459.5,638.5 1460.5,638.5 1461.5,639.5 1462.5,639.5 1462.5,638.5 1463.5,640.5 1465.5,633.5 1466.5,636.5 1466.5,637.5 1468.5,645.5 1469.5,645.5 1469.5,644.5 1472.5,638.5 1473.5,639.5 1474.5,643.5 1474.5,645.5 1475.5,645.5 1476.5,643.5 1477.5,640.5 1478.5,642.5 1479.5,642.5 1480.5,645.5 1481.5,647.5 1481.5,648.5 1482.5,652.5 1483.5,652.5 1484.5,653.5 1484.5,654.5 1485.5,654.5 1487.5,646.5 1487.5,643.5 1488.5,640.5 1489.5,641.5 1489.5,644.5 1491.5,654.5 1492.5,648.5 1493.5,645.5 1493.5,645.5 1494.5,646.5 1495.5,648.5 1496.5,651.5 1497.5,653.5 1497.5,651.5 1498.5,647.5 1499.5,659.5 1500.5,673.5 1501.5,688.5 1503.5,704.5 1504.5,713.5 1504.5,711.5 1505.5,708.5 1506.5,707.5 1507.5,705.5 1508.5,698.5 1509.5,685.5 1510.5,677.5 1511.5,683.5 1512.5,696.5 1513.5,698.5 1514.5,698.5 1514.5,695.5 1515.5,693.5 1516.5,691.5 1517.5,689.5 1517.5,689.5 1518.5,688.5 1519.5,691.5 1519.5,693.5 1520.5,686.5 1522.5,678.5 1523.5,673.5 1525.5,662.5 1526.5,670.5 1528.5,658.5 1529.5,659.5 1530.5,662.5 1530.5,663.5 1531.5,666.5 1532.5,654.5 1533.5,653.5 1534.5,652.5 1535.5,651.5 1536.5,650.5 1536.5,648.5 1537.5,648.5 1538.5,642.5 1539.5,657.5 1540.5,643.5 1541.5,652.5 1543.5,659.5 1544.5,660.5 1544.5,662.5 1546.5,654.5 1548.5,645.5 1549.5,658.5 1550.5,655.5 1551.5,653.5 1552.5,652.5 1553.5,651.5 1553.5,650.5 1554.5,650.5 1555.5,652.5 1556.5,655.5 1558.5,665.5 1559.5,646.5 1560.5,647.5 1561.5,650.5 1563.5,667.5 1564.5,650.5 1565.5,657.5 1566.5,657.5 1567.5,656.5 1568.5,656.5 1568.5,653.5 1569.5,654.5 1569.5,656.5 1570.5,655.5 1571.5,652.5 1571.5,651.5 1572.5,651.5"/>
</svg>
<div id="created">Created in RSpec Version 2.0.0</div>
<div id="ang">Angstroms</div>
<div id="cb"></div>
</body></html>
